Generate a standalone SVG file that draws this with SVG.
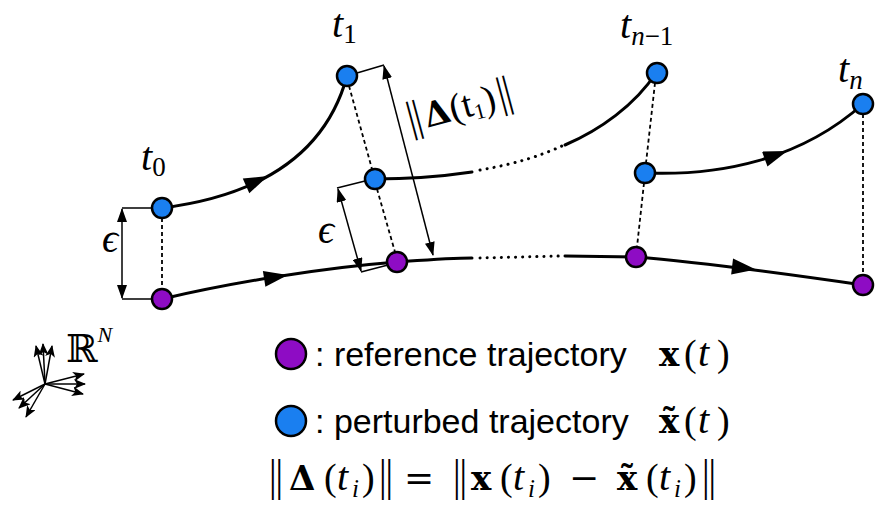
<svg xmlns="http://www.w3.org/2000/svg" width="881" height="509" viewBox="0 0 881 509">
<style>
.traj{fill:none;stroke:#000;stroke-width:3;stroke-linecap:round}
.dot{fill:none;stroke:#000;stroke-width:3;stroke-dasharray:0.1,7;stroke-linecap:round}
.dash{fill:none;stroke:#000;stroke-width:1.8;stroke-dasharray:4,3}
.thin{fill:none;stroke:#000;stroke-width:1.5}
.blue{fill:#1a7ff0;stroke:#000;stroke-width:2.5}
.purp{fill:#8e0cc4;stroke:#000;stroke-width:2.5}
.tl{font-family:"Liberation Serif",serif;font-style:italic;font-size:40px;fill:#000}
.sub{font-size:27px}
.up{font-style:normal}
.leg{font-family:"Liberation Sans",Arial,sans-serif;font-size:34px;fill:#000}
.math{font-family:"Liberation Serif","DejaVu Serif",serif;font-size:38px;fill:#000}
.bf{font-family:"DejaVu Serif",serif;font-weight:bold;font-size:34px}
.it{font-style:italic;font-size:40px}
.si{font-style:italic;font-size:25px}
.op{font-family:"DejaVu Serif",serif;font-size:36px}
.bar{font-family:"DejaVu Sans",sans-serif;font-weight:200;font-size:40px}
</style>
<defs>
<marker id="ah" markerUnits="userSpaceOnUse" markerWidth="14" markerHeight="10" refX="13" refY="5" orient="auto-start-reverse">
<path d="M0,0 L14,5 L0,10 z" fill="#000"/>
</marker>
<marker id="as" markerUnits="userSpaceOnUse" markerWidth="12" markerHeight="10" refX="11" refY="5" orient="auto">
<path d="M0,0 L12,5 L0,10 L3,5 z" fill="#000"/>
</marker>
<polygon id="head" points="12,0 -12,-8 -12,8" fill="#000"/>
</defs>

<g id="connectors">
<path class="traj" d="M162,208 C225,200 320,175 347,76"/>
<path class="traj" d="M374,179 C410,179 445,176 472,172"/>
<path class="dot" d="M480,170 C515,164 540,156 562,146"/>
<path class="traj" d="M565,145 C600,130 635,105 656,73"/>
<path class="traj" d="M645,173 C720,176 800,160 863,104"/>
<path class="traj" d="M162,299 C230,283 320,268 397,262 C425,260 450,258 472,258"/>
<path class="dot" d="M480,258 L562,256"/>
<path class="traj" d="M565,256 L636,257 C700,262 780,273 863,285"/>
<use href="#head" transform="translate(257,181) rotate(-24)"/>
<use href="#head" transform="translate(276,277) rotate(-9)"/>
<use href="#head" transform="translate(776,155) rotate(-20)"/>
<use href="#head" transform="translate(744,268) rotate(7)"/>
<path class="dash" d="M162,218 L162,289"/>
<path class="dash" d="M349,86 L372,169"/>
<path class="dash" d="M377,189 L395,252"/>
<path class="dash" d="M655,83 L646,163"/>
<path class="dash" d="M644,183 L637,247"/>
<path class="dash" d="M863,114 L863,275"/>
<path class="thin" d="M122,208 L152,208 M122,299 L152,299"/>
<path class="thin" stroke-width="2" d="M122,209 L122,298" marker-start="url(#ah)" marker-end="url(#ah)"/>
<path class="thin" d="M365,181 L337,188 M361,272 L388,265"/>
<path class="thin" d="M338,189 L361,271" marker-start="url(#ah)" marker-end="url(#ah)"/>
<path class="thin" d="M357,73 L384,65"/>
<path class="thin" d="M384,66 L433,255" marker-start="url(#ah)" marker-end="url(#ah)"/>
<g class="thin" stroke-width="1.3">
<path d="M45,384 L36,346" marker-end="url(#as)"/>
<path d="M45,384 L43,344" marker-end="url(#as)"/>
<path d="M45,384 L52,346" marker-end="url(#as)"/>
<path d="M45,384 L84,374" marker-end="url(#as)"/>
<path d="M45,384 L85,384" marker-end="url(#as)"/>
<path d="M45,384 L83,394" marker-end="url(#as)"/>
<path d="M45,384 L13,400" marker-end="url(#as)"/>
<path d="M45,384 L19,408" marker-end="url(#as)"/>
<path d="M45,384 L26,417" marker-end="url(#as)"/>
</g>
</g>

<g id="n-t0-pert"><circle class="blue" cx="162" cy="208" r="10"/></g>
<g id="n-t0-ref"><circle class="purp" cx="162" cy="299" r="10"/></g>
<g id="n-t1-top"><circle class="blue" cx="347" cy="76" r="10"/></g>
<g id="n-t1-pert"><circle class="blue" cx="375" cy="179" r="10"/></g>
<g id="n-t1-ref"><circle class="purp" cx="397" cy="262" r="10"/></g>
<g id="n-tn1-top"><circle class="blue" cx="657" cy="73" r="10"/></g>
<g id="n-tn1-pert"><circle class="blue" cx="645" cy="173" r="10"/></g>
<g id="n-tn1-ref"><circle class="purp" cx="636" cy="257" r="10"/></g>
<g id="n-tn-top"><circle class="blue" cx="863" cy="104" r="10"/></g>
<g id="n-tn-ref"><circle class="purp" cx="863" cy="285" r="10"/></g>

<g id="labels">
<text class="tl" x="141" y="170">t<tspan class="sub up" dy="6">0</tspan></text>
<text class="tl" x="332" y="37">t<tspan class="sub up" dy="6">1</tspan></text>
<text class="tl" x="620" y="38">t<tspan class="sub" dy="7">n</tspan><tspan class="sub up">−1</tspan></text>
<text class="tl" x="838" y="82">t<tspan class="sub" dy="7">n</tspan></text>
<text class="tl" x="102" y="252" font-size="32">ϵ</text>
<text class="tl" x="318" y="243" font-size="32">ϵ</text>
<text class="math" x="0" y="0" font-size="34" transform="translate(408,133) rotate(-15)"><tspan class="bar" font-size="36">‖</tspan><tspan class="bf" font-size="30">Δ</tspan>(t<tspan font-size="22" dy="5">1</tspan><tspan dy="-5">)</tspan><tspan class="bar" font-size="36">‖</tspan></text>
<text class="math" x="66" y="362" font-family="DejaVu Serif,serif" font-size="36">ℝ<tspan font-family="Liberation Serif,serif" font-style="italic" font-size="22" dy="-20">N</tspan></text>
</g>

<g id="legend">
<circle class="purp" cx="291" cy="354" r="15" stroke-width="4"/>
<text class="leg" x="315" y="366">: reference trajectory</text>
<text class="math" y="366" font-size="40"><tspan class="bf" x="659">x</tspan><tspan x="684">(</tspan><tspan class="it" x="698">t</tspan><tspan x="717">)</tspan></text>
<circle class="blue" cx="291" cy="421" r="15" stroke-width="4"/>
<text class="leg" x="315" y="433">: perturbed trajectory</text>
<text class="math" y="433" font-size="40"><tspan class="bf" x="659">x̃</tspan><tspan x="684">(</tspan><tspan class="it" x="698">t</tspan><tspan x="717">)</tspan></text>
<text class="math" y="490"><tspan class="bar" x="266">‖</tspan><tspan class="bf" x="289">Δ</tspan><tspan x="324">(</tspan><tspan class="it" x="337">t</tspan><tspan class="si" x="352" y="497">i</tspan><tspan x="362" y="490">)</tspan><tspan class="bar" x="376">‖</tspan><tspan class="op" x="404">=</tspan><tspan class="bar" x="450">‖</tspan><tspan class="bf" x="471">x</tspan><tspan x="500">(</tspan><tspan class="it" x="513">t</tspan><tspan class="si" x="528" y="497">i</tspan><tspan x="538" y="490">)</tspan><tspan class="op" x="569">−</tspan><tspan class="bf" x="617">x̃</tspan><tspan x="646">(</tspan><tspan class="it" x="659">t</tspan><tspan class="si" x="674" y="497">i</tspan><tspan x="684" y="490">)</tspan><tspan class="bar" x="699">‖</tspan></text>
</g>
</svg>
